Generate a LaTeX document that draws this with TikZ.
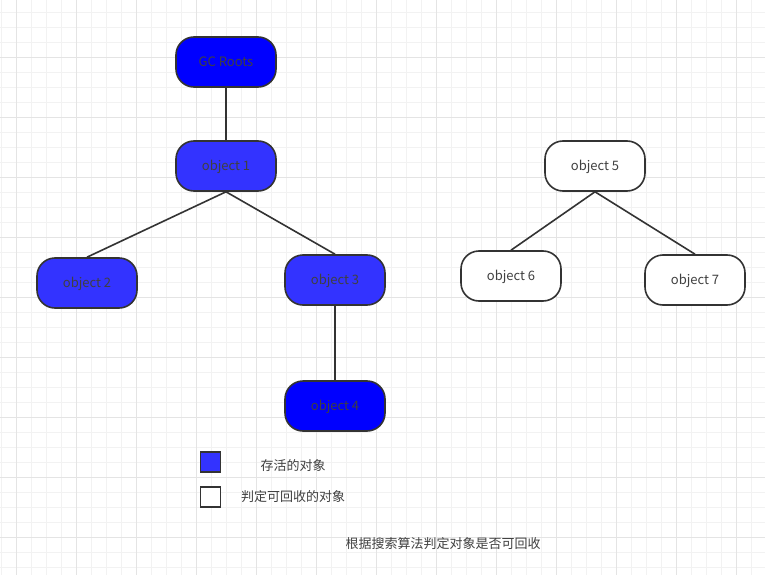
\documentclass[tikz,border=0pt]{standalone}
\usepackage{fontspec}
\setmainfont{Noto Sans CJK SC}
\newcommand{\lowtxt}[1]{\raisebox{-1.5pt}[9pt][3pt]{#1}}
\begin{document}
\begin{tikzpicture}[x=1pt,y=-1pt,
  obj/.style={draw=black!80, line width=1.6pt, rounded corners=18pt, minimum width=100pt, minimum height=50pt, inner sep=0pt, text=black!75, font=\fontsize{13}{15}\selectfont},
  deep/.style={obj, fill={rgb,255:red,0;green,0;blue,255}},
  live/.style={obj, fill={rgb,255:red,51;green,51;blue,255}},
  dead/.style={obj, fill=white},
  edge/.style={draw=black!80, line width=1.6pt},
  legbox/.style={draw=black!80, line width=1.6pt, minimum size=20pt, inner sep=0pt},
  lbl/.style={text=black!75, font=\fontsize{13}{15}\selectfont, inner sep=0pt}]
\useasboundingbox (0,0) rectangle (765,575);
\fill[white] (0,0) rectangle (765,575);
% grid
\foreach \i in {0,...,51} {
  \draw[line width=0.7pt, draw={rgb,255:red,242;green,242;blue,242}] (1+15*\i,0) -- (1+15*\i,575);
}
\foreach \i in {0,...,38} {
  \draw[line width=0.7pt, draw={rgb,255:red,242;green,242;blue,242}] (0,12+15*\i) -- (765,12+15*\i);
}
\foreach \i in {0,...,12} {
  \draw[line width=0.7pt, draw={rgb,255:red,228;green,228;blue,228}] (16+60*\i,0) -- (16+60*\i,575);
}
\foreach \i in {-1,...,9} {
  \draw[line width=0.7pt, draw={rgb,255:red,228;green,228;blue,228}] (0,57+60*\i) -- (765,57+60*\i);
}
% nodes
\node[deep] (gc) at (226,62) {\lowtxt{GC Roots}};
\node[live] (o1) at (226,166) {\lowtxt{object 1}};
\node[live] (o2) at (87,283) {\lowtxt{object 2}};
\node[live] (o3) at (335,280) {\lowtxt{object 3}};
\node[deep] (o4) at (335,406) {\lowtxt{object 4}};
\node[dead] (o5) at (595,166) {\lowtxt{object 5}};
\node[dead] (o6) at (511,276) {\lowtxt{object 6}};
\node[dead] (o7) at (695,280) {\lowtxt{object 7}};
% edges
\draw[edge] (gc.south) -- (o1.north);
\draw[edge] (o1.south) -- (o2.north);
\draw[edge] (o1.south) -- (o3.north);
\draw[edge] (o3.south) -- (o4.north);
\draw[edge] (o5.south) -- (o6.north);
\draw[edge] (o5.south) -- (o7.north);
% legend
\node[legbox, fill={rgb,255:red,51;green,51;blue,255}] (lg1) at (210.5,462) {};
\node[legbox, fill=white] (lg2) at (210.5,497) {};
\node[lbl] (t1) at (293,466) {存活的对象};
\node[lbl] (t2) at (293,497) {判定可回收的对象};
\node[lbl] (cap) at (443,544) {根据搜索算法判定对象是否可回收};
\end{tikzpicture}
\end{document}
